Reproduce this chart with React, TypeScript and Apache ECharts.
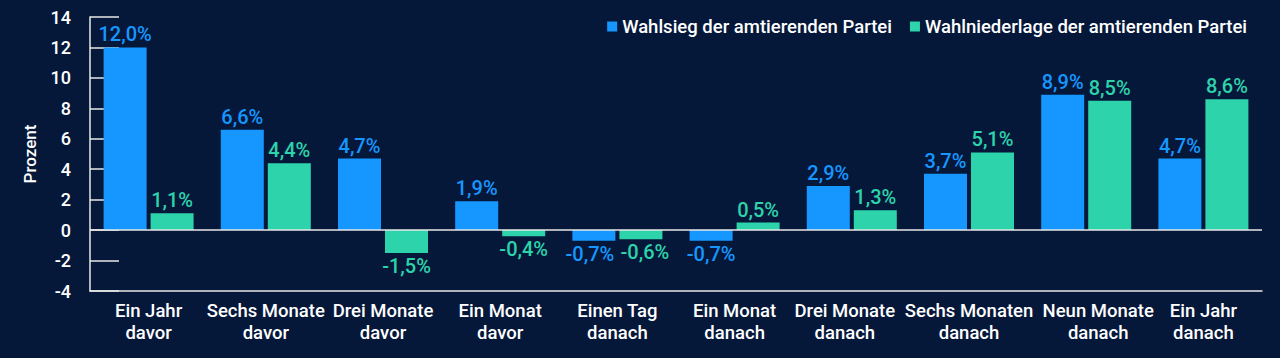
import React, { useEffect, useRef } from "react";
import * as echarts from "echarts";

const categories = [
  "Ein Jahr\ndavor",
  "Sechs Monate\ndavor",
  "Drei Monate\ndavor",
  "Ein Monat\ndavor",
  "Einen Tag\ndanach",
  "Ein Monat\ndanach",
  "Drei Monate\ndanach",
  "Sechs Monaten\ndanach",
  "Neun Monate\ndanach",
  "Ein Jahr\ndanach",
];
const wahlsieg = [12.0, 6.6, 4.7, 1.9, -0.7, -0.7, 2.9, 3.7, 8.9, 4.7];
const wahlniederlage = [1.1, 4.4, -1.5, -0.4, -0.6, 0.5, 1.3, 5.1, 8.5, 8.6];
const seriesNames = [
  "Wahlsieg der amtierenden Partei",
  "Wahlniederlage der amtierenden Partei",
];
const yMin = -4;
const yMax = 14;
const yInterval = 2;

const BG = "#05183a";
const BLUE = "#1697ff";
const GREEN = "#2dd3aa";
const AXIS = "#e8e8e8";
const FONT = "Roboto, 'Noto Sans', sans-serif";

// label nudges (padding [left, right] in px) so neighbouring labels don't touch
const labelNudge: Record<number, [number, number]> = { 6: [0, 14], 8: [24, 0] };
// horizontal value-label offsets where two labels would touch
const valueLabelShift: Record<number, number> = { 4: 4 };

function makeData(values: number[], dir: number) {
  return values.map((v, i) => ({
    value: v,
    label: {
      position: v < 0 ? "bottom" : "top",
      offset: [(valueLabelShift[i] || 0) * dir, 0],
    },
  }));
}

export default function App() {
  const ref = useRef<HTMLDivElement>(null);
  useEffect(() => {
    if (!ref.current) return;
    const chart = echarts.init(ref.current, undefined, { renderer: "svg" });
    const labelFmt = (p: any) => p.value.toFixed(1).replace(".", ",") + "%";
    const axisData = categories.map((c, i) =>
      labelNudge[i]
        ? {
            value: c,
            textStyle: { padding: [0, labelNudge[i][1], 0, labelNudge[i][0]] },
          }
        : c
    );
    chart.setOption({
      animation: false,
      backgroundColor: BG,
      textStyle: { fontFamily: FONT },
      legend: {
        top: 12,
        right: 28,
        itemWidth: 10,
        itemHeight: 10,
        itemGap: 18,
        icon: "rect",
        textStyle: { color: "#ffffff", fontSize: 18.5, fontWeight: 500, fontFamily: FONT },
        data: seriesNames,
      },
      grid: { left: 90, right: 18, top: 17, bottom: 67, containLabel: false },
      xAxis: {
        type: "category",
        data: axisData,
        axisLine: { onZero: false, lineStyle: { color: AXIS, width: 1.5 } },
        axisTick: { show: false },
        axisLabel: {
          color: "#ffffff",
          fontSize: 18.5,
          fontWeight: 500,
          lineHeight: 22,
          margin: 9,
          interval: 0,
          fontFamily: FONT,
        },
      },
      yAxis: {
        type: "value",
        min: yMin,
        max: yMax,
        interval: yInterval,
        name: "Prozent",
        nameLocation: "middle",
        nameGap: 52,
        nameTextStyle: { color: "#ffffff", fontSize: 17, fontWeight: 500, fontFamily: FONT },
        axisLine: { show: true, lineStyle: { color: AXIS, width: 1.5 } },
        axisTick: {
          show: true,
          inside: true,
          length: 29,
          lineStyle: { color: AXIS, width: 1.5 },
        },
        splitLine: { show: false },
        axisLabel: {
          color: "#ffffff",
          fontSize: 18,
          fontWeight: 500,
          margin: 19,
          fontFamily: FONT,
        },
      },
      series: [
        {
          name: seriesNames[0],
          type: "bar",
          data: makeData(wahlsieg, -1),
          itemStyle: { color: BLUE },
          barGap: "9.3%",
          barCategoryGap: "23.2%",
          label: {
            show: true,
            color: BLUE,
            fontSize: 20,
            fontWeight: 500,
            distance: 3,
            formatter: labelFmt,
            fontFamily: FONT,
          },
          markLine: {
            silent: true,
            symbol: "none",
            label: { show: false },
            lineStyle: { color: AXIS, width: 1.5, type: "solid" },
            data: [{ yAxis: 0 }],
          },
        },
        {
          name: seriesNames[1],
          type: "bar",
          data: makeData(wahlniederlage, 1),
          itemStyle: { color: GREEN },
          barGap: "9.3%",
          barCategoryGap: "23.2%",
          label: {
            show: true,
            color: GREEN,
            fontSize: 20,
            fontWeight: 500,
            distance: 3,
            formatter: labelFmt,
            fontFamily: FONT,
          },
        },
      ],
    });
    return () => chart.dispose();
  }, []);
  return (
    <div
      ref={ref}
      style={{ position: "fixed", left: 0, top: 0, width: 1280, height: 358 }}
    />
  );
}
